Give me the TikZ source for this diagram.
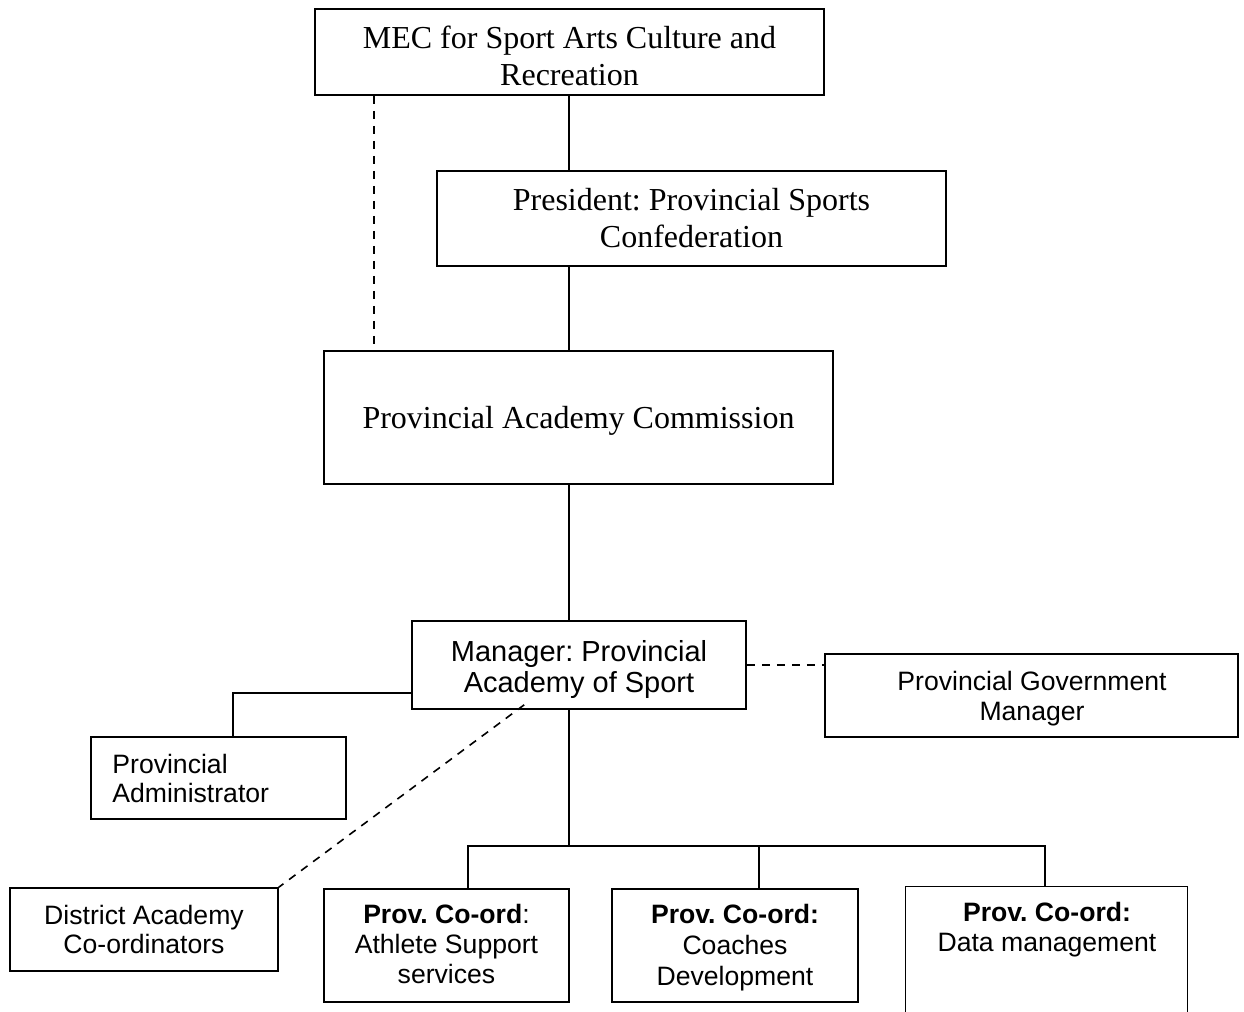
\documentclass[tikz,border=0pt]{standalone}
\usepackage{fontspec}
\setmainfont{Liberation Serif}
\newfontfamily\arialf{Liberation Sans}
\usetikzlibrary{fit,calc}
\frenchspacing
\begin{document}
\begin{tikzpicture}[x=0.5pt,y=-0.5pt,
  boxnode/.style={draw=black,line width=0.8pt,inner sep=0pt,rectangle},
  conn/.style={line width=0.8pt,draw=black},
  dconn/.style={line width=0.8pt,draw=black,dash pattern=on 4pt off 3.5pt},
  serift/.style={inner sep=0pt,anchor=base,font=\frenchspacing\fontsize{16}{18}\selectfont},
  mgrt/.style={inner sep=0pt,anchor=base,font=\frenchspacing\arialf\fontsize{14.5}{16}\selectfont},
  sanst/.style={inner sep=0pt,anchor=base,font=\frenchspacing\arialf\fontsize{13.3}{15}\selectfont}]
\useasboundingbox (0,0) rectangle (1244,1012);

% boxes
\node[boxnode,fit={(315,9) (824,95)}] (mec) {};
\node[boxnode,fit={(437,171) (946,266)}] (pres) {};
\node[boxnode,fit={(324,351) (833,484)}] (comm) {};
\node[boxnode,fit={(412,621) (746,709)}] (mgr) {};
\node[boxnode,fit={(825,654) (1238,737)}] (pgm) {};
\node[boxnode,fit={(91,737) (346,819)}] (adm) {};
\node[boxnode,fit={(10,888) (278,971)}] (dist) {};
\node[boxnode,fit={(324,889) (569,1002)}] (ath) {};
\node[boxnode,fit={(612,889) (858,1002)}] (coach) {};
\node[inner sep=0pt,fit={(906,887) (1187,1012)}] (data) {};
\draw[conn] (data.south west) -- (data.north west) -- (data.north east) -- (data.south east);

% texts
\node[serift] (mect1) at (569.5,48) {MEC for Sport Arts Culture and};
\node[serift] (mect2) at (569.5,85) {Recreation};
\node[serift] (prest1) at (691.5,210) {President: Provincial Sports};
\node[serift] (prest2) at (691.5,247) {Confederation};
\node[serift] (commt) at (578.5,428) {Provincial Academy Commission};
\node[mgrt] (mgrt1) at (579,661) {Manager: Provincial};
\node[mgrt] (mgrt2) at (579,692) {Academy of Sport};
\node[sanst] (pgmt1) at (1032,690) {Provincial Government};
\node[sanst] (pgmt2) at (1032,720) {Manager};
\node[sanst,anchor=base west] (admt1) at (112,773) {Provincial};
\node[sanst,anchor=base west] (admt2) at (112,802) {Administrator};
\node[sanst] (distt1) at (144,924) {District Academy};
\node[sanst] (distt2) at (144,953) {Co-ordinators};
\node[sanst] (atht1) at (446.5,923) {\textbf{Prov. Co-ord}:};
\node[sanst] (atht2) at (446.5,953) {Athlete Support};
\node[sanst] (atht3) at (446.5,983) {services};
\node[sanst] (coacht1) at (735,923) {\textbf{Prov. Co-ord:}};
\node[sanst] (coacht2) at (735,954) {Coaches};
\node[sanst] (coacht3) at (735,985) {Development};
\node[sanst] (datat1) at (1047,921) {\textbf{Prov. Co-ord:}};
\node[sanst] (datat2) at (1047,951) {Data management};

% connectors
\coordinate (spine) at (569,0);
\draw[conn] (spine |- mec.south) -- (spine |- pres.north);
\draw[conn] (spine |- pres.south) -- (spine |- comm.north);
\draw[conn] (spine |- comm.south) -- (spine |- mgr.north);
\coordinate (d1) at ($(mec.south west)+(60,0)$);
\draw[dconn] (d1) -- (d1 |- comm.north);
\draw[dconn] (mgr.east) -- (mgr.east -| pgm.west);
\coordinate (a1) at ($(mgr.west)+(0,28)$);
\coordinate (a2) at ($(adm.north)+(14.5,0)$);
\draw[conn] (a1) -| (a2);
\coordinate (m2) at ($(mgr.south west)+(113,-5)$);
\draw[dconn] (m2) -- (dist.north east);
\coordinate (bus) at (569,846);
\coordinate (b1) at (468,846);
\coordinate (b2) at (759,846);
\coordinate (b3) at (1045,846);
\draw[conn] (spine |- mgr.south) -- (bus);
\draw[conn] (b1 |- ath.north) -- (b1) -- (b3) -- (b3 |- data.north);
\draw[conn] (b2) -- (b2 |- coach.north);
\end{tikzpicture}
\end{document}
